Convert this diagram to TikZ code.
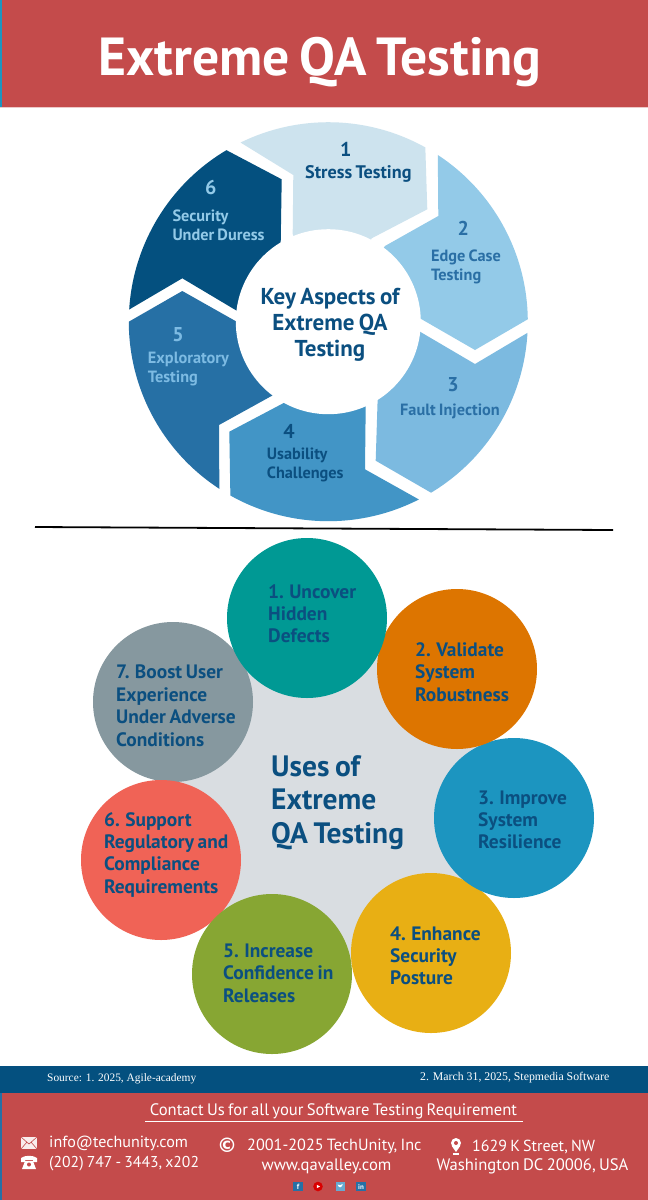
\documentclass[tikz,border=0pt]{standalone}
\usepackage{fontspec}
\setmainfont[WordSpace=0.75]{PT Sans}
\newfontfamily\srcfont{Liberation Serif}
\newfontfamily\symfont{DejaVu Sans}
\usetikzlibrary{calc}
\definecolor{hdred}{HTML}{C44B4B}
\definecolor{navy}{HTML}{04507F}
\definecolor{txtb}{HTML}{0B4F80}
\definecolor{sega}{HTML}{CDE3EE}
\definecolor{segb}{HTML}{93CAE8}
\definecolor{segc}{HTML}{7CBAE0}
\definecolor{segd}{HTML}{4295C6}
\definecolor{sege}{HTML}{2670A5}
\definecolor{segf}{HTML}{04507F}
\definecolor{txtm}{HTML}{2A6FA5}
\definecolor{txtl}{HTML}{7DBBE3}
\definecolor{txtp}{HTML}{93CAE8}
\definecolor{graybg}{HTML}{D9DDE1}
\definecolor{cteal}{HTML}{009994}
\definecolor{corange}{HTML}{DD7500}
\definecolor{cblue}{HTML}{1C95C0}
\definecolor{cyellow}{HTML}{E8AF14}
\definecolor{cgreen}{HTML}{87A633}
\definecolor{ccoral}{HTML}{F06356}
\definecolor{cslate}{HTML}{86989F}
\tikzset{
  x=1pt,y=1pt,
  wheeltxt/.style={inner sep=0pt,yshift=-1pt,align=left,anchor=west,font=\fontsize{16.3}{19}\selectfont\bfseries},
  wheelnum/.style={inner sep=0pt,anchor=center,font=\fontsize{20}{24}\selectfont\bfseries},
  usecirc/.style={circle,minimum size=160pt,inner sep=0pt,draw=none},
  usetxt/.style={inner sep=0pt,yshift=-0.3pt,align=left,anchor=west,text=txtb,font=\fontsize{19.4}{22.4}\selectfont\bfseries},
  foot/.style={inner sep=0pt,yshift=-1.5pt,text=white,font=\fontsize{16.6}{18}\selectfont},
  srctxt/.style={inner sep=0pt,text=white,font=\fontsize{11.4}{13}\selectfont\srcfont},
  soc/.style={minimum size=9.5pt,inner sep=0pt,text=white,font=\fontsize{7.5}{8}\selectfont\bfseries},
}
\begin{document}
\begin{tikzpicture}
\useasboundingbox (0,0) rectangle (648,-1200);
\fill[white] (0,0) rectangle (648,-1200);
% header
\fill[hdred] (0,0) rectangle (648,-107);
\fill[cblue] (0,0) rectangle (2,-107);
\fill[hdred!30] (0,-107) rectangle (648,-108);
\node[inner sep=0pt,anchor=base,text=white,font=\fontsize{53.6}{60}\selectfont\bfseries] (title) at (320,-75) {Extreme QA Testing};
% wheel
\coordinate (wc) at (328.3,-321.7);
\def\Rw{199.5}
\fill[sega] ($(wc)+(116.1:\Rw)$) arc[start angle=116.1,end angle=60.9,radius=\Rw] -- (427.3,-209.3) -- (371.7,-238.3) -- (330,-320) -- (292.7,-234) -- (293.3,-175) -- cycle;
\fill[segb] ($(wc)+(56.7:\Rw)$) arc[start angle=56.7,end angle=0.7,radius=\Rw] -- (475,-350) -- (420,-318.3) -- (330,-320) -- (385,-246) -- (438.3,-216) -- cycle;
\fill[segc] ($(wc)+(-3.2:\Rw)$) arc[start angle=-3.2,end angle=-59,radius=\Rw] -- (375.7,-460.7) -- (377.7,-397.3) -- (330,-320) -- (420,-331.7) -- (475,-364) -- cycle;
\fill[segd] ($(wc)+(-63:\Rw)$) arc[start angle=-63,end angle=-119.4,radius=\Rw] -- (229.3,-431.7) -- (285,-402.3) -- (330,-320) -- (365.7,-405.7) -- (365,-469.3) -- cycle;
\fill[sege] ($(wc)+(-123.1:\Rw)$) arc[start angle=-123.1,end angle=-180,radius=\Rw] -- (182.3,-291) -- (236.7,-321.7) -- (330,-320) -- (273.3,-395) -- (219,-425) -- cycle;
\fill[segf] ($(wc)+(176.5:\Rw)$) arc[start angle=176.5,end angle=120.7,radius=\Rw] -- (281.7,-179.3) -- (280.7,-243.3) -- (330,-320) -- (236.7,-310.7) -- (182.3,-278.3) -- cycle;
\fill[white] (wc) circle[radius=92.5];
\node[wheelnum,text=txtb] (n1) at (345.7,-149.3) {1};
\node[wheeltxt,text=txtb,font=\fontsize{18.2}{19}\selectfont\bfseries] (t1) at (305,-173) {Stress Testing};
\node[wheelnum,text=txtm] (n2) at (463.3,-228.3) {2};
\node[wheeltxt,text=txtm] (t2) at (431,-265.5) {Edge Case\\Testing};
\node[wheelnum,text=txtm] (n3) at (453,-385) {3};
\node[wheeltxt,text=txtm] (t3) at (400,-410) {Fault Injection};
\node[wheelnum,text=txtb] (n4) at (289,-431.7) {4};
\node[wheeltxt,text=txtb] (t4) at (266.7,-463.8) {Usability\\Challenges};
\node[wheelnum,text=txtl] (n5) at (178,-335) {5};
\node[wheeltxt,text=txtl] (t5) at (147.7,-368.3) {Exploratory\\Testing};
\node[wheelnum,text=txtp] (n6) at (210.7,-187.3) {6};
\node[wheeltxt,text=txtp] (t6) at (172.3,-223.8) {Security\\Under Duress};
\node[inner sep=0pt,yshift=-1.5pt,align=center,text=txtb,font=\fontsize{23}{26.2}\selectfont\bfseries] (wct) at (330,-323) {Key Aspects of\\Extreme QA\\Testing};
% divider
\coordinate (da) at (35,-527);
\coordinate (db) at (613,-530);
\draw[black,line width=1.8pt] (da) -- (db);
% uses
\coordinate (u1) at (307,-618);
\coordinate (u2) at (457,-669);
\coordinate (u3) at (514,-818);
\coordinate (u4) at (431,-953);
\coordinate (u5) at (272,-974);
\coordinate (u6) at (161,-860);
\coordinate (u7) at (173,-702);
\fill[graybg] (u1) -- (u2) -- (u3) -- (u4) -- (u5) -- (u6) -- (u7) -- cycle;
\node[usecirc,fill=cslate] (c7) at (u7) {};
\node[usecirc,fill=ccoral] (c6) at (u6) {};
\node[usecirc,fill=cgreen] (c5) at (u5) {};
\node[usecirc,fill=cyellow] (c4) at (u4) {};
\node[usecirc,fill=cblue] (c3) at (u3) {};
\node[usecirc,fill=corange] (c2) at (u2) {};
\node[usecirc,fill=cteal] (c1) at (u1) {};
\node[usetxt] (ut1) at (268,-613.5) {1. Uncover\\Hidden\\Defects};
\node[usetxt] (ut2) at (415,-671.5) {2. Validate\\System\\Robustness};
\node[usetxt] (ut3) at (478,-819.5) {3. Improve\\System\\Resilience};
\node[usetxt] (ut4) at (390,-955.5) {4. Enhance\\Security\\Posture};
\node[usetxt] (ut5) at (223,-973) {5. Increase\\Confidence in\\Releases};
\node[usetxt] (ut6) at (104,-854.5) {6. Support\\Regulatory and\\Compliance\\Requirements};
\node[usetxt] (ut7) at (116,-705.5) {7. Boost User\\Experience\\Under Adverse\\Conditions};
\node[inner sep=0pt,align=left,anchor=west,text=txtb,font=\fontsize{29.5}{33.5}\selectfont\bfseries] (uct) at (271,-802.5) {Uses of\\Extreme\\QA Testing};
% footer
\fill[navy] (0,-1066) rectangle (648,-1093);
\fill[hdred] (0,-1093) rectangle (648,-1200);
\fill[sege] (0,-1093) rectangle (1.5,-1200);
\node[srctxt,anchor=west] (s1) at (47,-1079) {Source: 1. 2025, Agile-academy};
\node[srctxt,anchor=west,font=\fontsize{11.8}{13}\selectfont\srcfont] (s2) at (420,-1078) {2. March 31, 2025, Stepmedia Software};
\node[foot] (ct) at (333.5,-1110) {Contact Us for all your Software Testing Requirement};
\coordinate (ula) at (145,-1121);
\coordinate (ulb) at (523,-1121);
\draw[white,line width=1pt] (ula) -- (ulb);
\node[foot,anchor=west,font=\fontsize{16.1}{18}\selectfont] (f1) at (49,-1142) {info@techunity.com};
\node[foot,anchor=west,font=\fontsize{15.7}{18}\selectfont] (f2) at (49,-1162) {(202) 747 - 3443, x202};
\node[foot,anchor=west,font=\fontsize{16.2}{18}\selectfont] (f3) at (247,-1145) {2001-2025 TechUnity, Inc};
\node[foot] (f4) at (326.5,-1165) {www.qavalley.com};
\node[foot,anchor=west,font=\fontsize{16}{18}\selectfont] (f5) at (472,-1145) {1629 K Street, NW};
\node[foot] (f6) at (532.5,-1165) {Washington DC 20006, USA};
% icons
\fill[white!90!hdred] (21,-1137) rectangle (37,-1149);
\draw[hdred,line width=.6pt] (21,-1137) -- (29,-1144) -- (37,-1137) (21,-1149) -- (27,-1142) (37,-1149) -- (31,-1142);
\fill[white] (21,-1158) .. controls (25,-1155) and (33,-1155) .. (37,-1158) -- (37,-1162) -- (33,-1162) -- (33,-1160) -- (25,-1160) -- (25,-1162) -- (21,-1162) -- cycle;
\fill[white] (25,-1161) -- (33,-1161) -- (36,-1169) -- (22,-1169) -- cycle;
\fill[hdred] (29,-1164.5) circle[radius=2];
\node[inner sep=0pt,text=white,font=\fontsize{20}{22}\selectfont\bfseries\symfont] (cpy) at (227,-1145) {©};
\fill[white] (456,-1143) circle[radius=5];
\fill[white] (451.5,-1145.5) -- (456,-1152) -- (460.5,-1145.5) -- cycle;
\fill[hdred] (456,-1143) circle[radius=2];
\fill[white] (453,-1153) rectangle (459,-1154.5);
% social
\node[soc,fill=sege] (sf) at (298,-1186.5) {f};
\fill[red!85!black] (318,-1186.5) circle[radius=4.8];
\fill[white] (316.8,-1184.8) -- (320,-1186.5) -- (316.8,-1188.2) -- cycle;
\fill[segd!80!white] (335.5,-1191) rectangle (344.5,-1182);
\fill[white] (337.5,-1184.5) .. controls (339,-1189) and (342,-1187.5) .. (342.8,-1184) .. controls (341,-1185.5) and (339,-1185.5) .. (337.5,-1184.5) -- cycle;
\node[soc,fill=sege,font=\fontsize{7}{8}\selectfont\bfseries] (sin) at (361,-1186.5) {in};
\end{tikzpicture}
\end{document}
